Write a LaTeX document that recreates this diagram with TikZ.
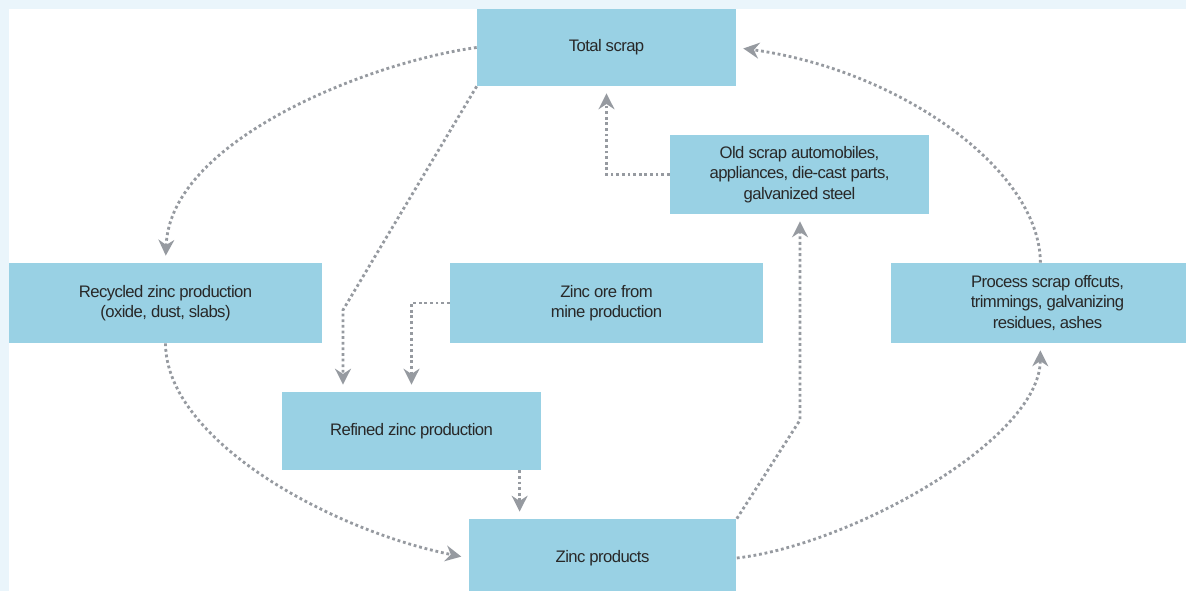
\documentclass[tikz,border=0pt]{standalone}
\usepackage{fontspec}
\setmainfont[LetterSpace=-3.5]{Liberation Sans}
\usetikzlibrary{arrows.meta}
\definecolor{boxblue}{RGB}{153,209,228}
\definecolor{flowgray}{RGB}{150,154,160}
\definecolor{framebg}{RGB}{234,245,251}
\definecolor{textgray}{RGB}{40,40,40}

\begin{document}
\begin{tikzpicture}[x=0.02cm,y=-0.02cm,
    cell/.style={fill=boxblue,align=center,inner sep=0pt,text=textgray,
        font=\fontsize{9.5}{11.5}\selectfont},
    flow/.style={draw=flowgray,line width=1.6pt,dash pattern=on 1.6pt off 1.6pt,
        -{Stealth[length=9pt,width=9pt,fill=flowgray]},shorten >=4pt}]
        % Frame
        \useasboundingbox (0,0) rectangle (1186,591);
        \fill [framebg] (0,0) rectangle (1186,591);
        \fill [white] (9,9) rectangle (1186,591);

        % Boxes
        \node [cell,minimum width=5.18cm,minimum height=1.54cm] (total)
            at (606.5,47.5) {Total scrap};
        \node [cell,minimum width=5.18cm,minimum height=1.58cm] (old)
            at (799.5,174.5) {Old scrap automobiles,\\appliances, die-cast parts,\\galvanized steel};
        \node [cell,minimum width=6.26cm,minimum height=1.6cm] (recycled)
            at (165.5,303) {Recycled zinc production\\(oxide, dust, slabs)};
        \node [cell,minimum width=6.26cm,minimum height=1.6cm] (ore)
            at (606.5,303) {Zinc ore from\\mine production};
        \node [cell,minimum width=6.26cm,minimum height=1.6cm] (process)
            at (1047.5,303) {Process scrap offcuts,\\trimmings, galvanizing\\residues, ashes};
        \node [cell,minimum width=5.18cm,minimum height=1.56cm] (refined)
            at (411.5,431) {Refined zinc production};
        \node [cell,minimum width=5.36cm,minimum height=1.56cm] (products)
            at (602.5,558) {Zinc products};

        % Outer cycle
        \draw [flow] (total.west) .. controls (370,62) and (170,140) .. (recycled.north);
        \draw [flow] (recycled.south) .. controls (166,440) and (330,530) .. (products.west);
        \draw [flow] (products.east) .. controls (850,545) and (1040,440) .. (process.-100);
        \draw [flow] (process.100) .. controls (1040,170) and (900,70) .. (total.east);

        % Inner flows
        \coordinate (kink) at (800,420);
        \draw [flow] (products.north east) -- (kink) -- (kink |- old.south);
        \draw [flow] (old.west) -| (total.south);
        \draw [flow] (ore.west) -| (refined.north);
        \coordinate (bend) at (343,310);
        \draw [flow] (total.south west) -- (bend) -- (bend |- refined.north);
        \draw [flow] (refined.-20) -- (refined.-20 |- products.north);
    \end{tikzpicture}
\end{document}
